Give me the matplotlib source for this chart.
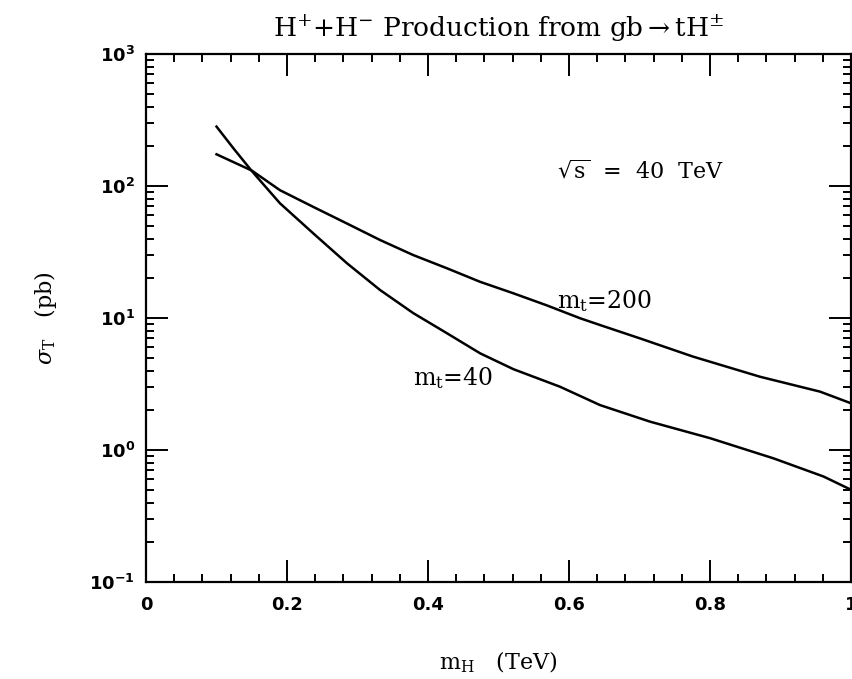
import matplotlib
matplotlib.use('Agg')
import matplotlib.pyplot as plt
from matplotlib.ticker import FixedLocator, LogLocator, FuncFormatter, NullFormatter

# values
mh_40 = [0.10, 0.125, 0.15, 0.17, 0.19, 0.237, 0.285, 0.332, 0.379, 0.427,
         0.474, 0.521, 0.587, 0.644, 0.715, 0.80, 0.89, 0.961, 1.0]
sigma_40 = [282, 190, 130, 98, 74, 43.9, 26, 16.3, 10.9, 7.66,
            5.4, 4.1, 3.02, 2.19, 1.64, 1.23, 0.865, 0.63, 0.50]

mh_200 = [0.10, 0.15, 0.19, 0.237, 0.285, 0.332, 0.379, 0.427, 0.474, 0.521,
          0.568, 0.616, 0.644, 0.701, 0.776, 0.871, 0.956, 1.0]
sigma_200 = [174, 131, 93, 69.6, 52, 39, 30, 23.8, 18.8, 15.4,
             12.5, 9.95, 8.85, 7.0, 5.1, 3.59, 2.77, 2.26]

x_major = [0, 0.2, 0.4, 0.6, 0.8, 1.0]

plt.rcParams['mathtext.fontset'] = 'dejavuserif'

fig = plt.figure(figsize=(8.52, 6.79), dpi=100)
ax = fig.add_axes([0.1714, 0.1428, 0.8275, 0.7776])

ax.plot(mh_40, sigma_40, color='black', lw=1.8)
ax.plot(mh_200, sigma_200, color='black', lw=1.8)

ax.set_yscale('log')
ax.set_xlim(0, 1)
ax.set_ylim(0.1, 1000)

ax.xaxis.set_major_locator(FixedLocator(x_major))
ax.xaxis.set_minor_locator(FixedLocator([i * 0.04 for i in range(26)]))
ax.xaxis.set_major_formatter(FuncFormatter(
    lambda v, p: '%d' % v if abs(v - round(v)) < 1e-9 else '%.1f' % v))
ax.yaxis.set_major_locator(LogLocator(base=10, numticks=10))
ax.yaxis.set_minor_locator(LogLocator(base=10, subs=range(2, 10), numticks=20))
ax.yaxis.set_minor_formatter(NullFormatter())

ax.tick_params(which='both', direction='in', top=True, right=True, width=1.4)
ax.tick_params(which='major', length=16)
ax.tick_params(which='minor', length=6)
ax.tick_params(axis='x', which='major', pad=10)
ax.tick_params(axis='y', which='major', pad=8)
for lab in ax.get_xticklabels() + ax.get_yticklabels():
    lab.set_fontsize(13)
    lab.set_fontweight('bold')
for sp in ax.spines.values():
    sp.set_linewidth(1.6)

ax.set_title(r'H$^{+}$+H$^{-}$ Production from gb$\rightarrow$tH$^{\pm}$',
             family='DejaVu Serif', fontsize=19, pad=12)
ax.set_xlabel(r'm$_{\rm H}$   (TeV)', family='DejaVu Serif', fontsize=16, labelpad=26)
ax.set_ylabel(r'$\sigma_{\rm T}$   (pb)', family='DejaVu Serif', fontsize=16, labelpad=22)

ax.text(0.583, 130, r'$\sqrt{\rm s}$  =  40  TeV', family='DejaVu Serif', fontsize=16,
        va='center')
ax.text(0.583, 13.5, r'm$_{\rm t}$=200', family='DejaVu Serif', fontsize=17, va='center')
ax.text(0.379, 3.5, r'm$_{\rm t}$=40', family='DejaVu Serif', fontsize=17, va='center')

fig.savefig('out.png', dpi=100)
